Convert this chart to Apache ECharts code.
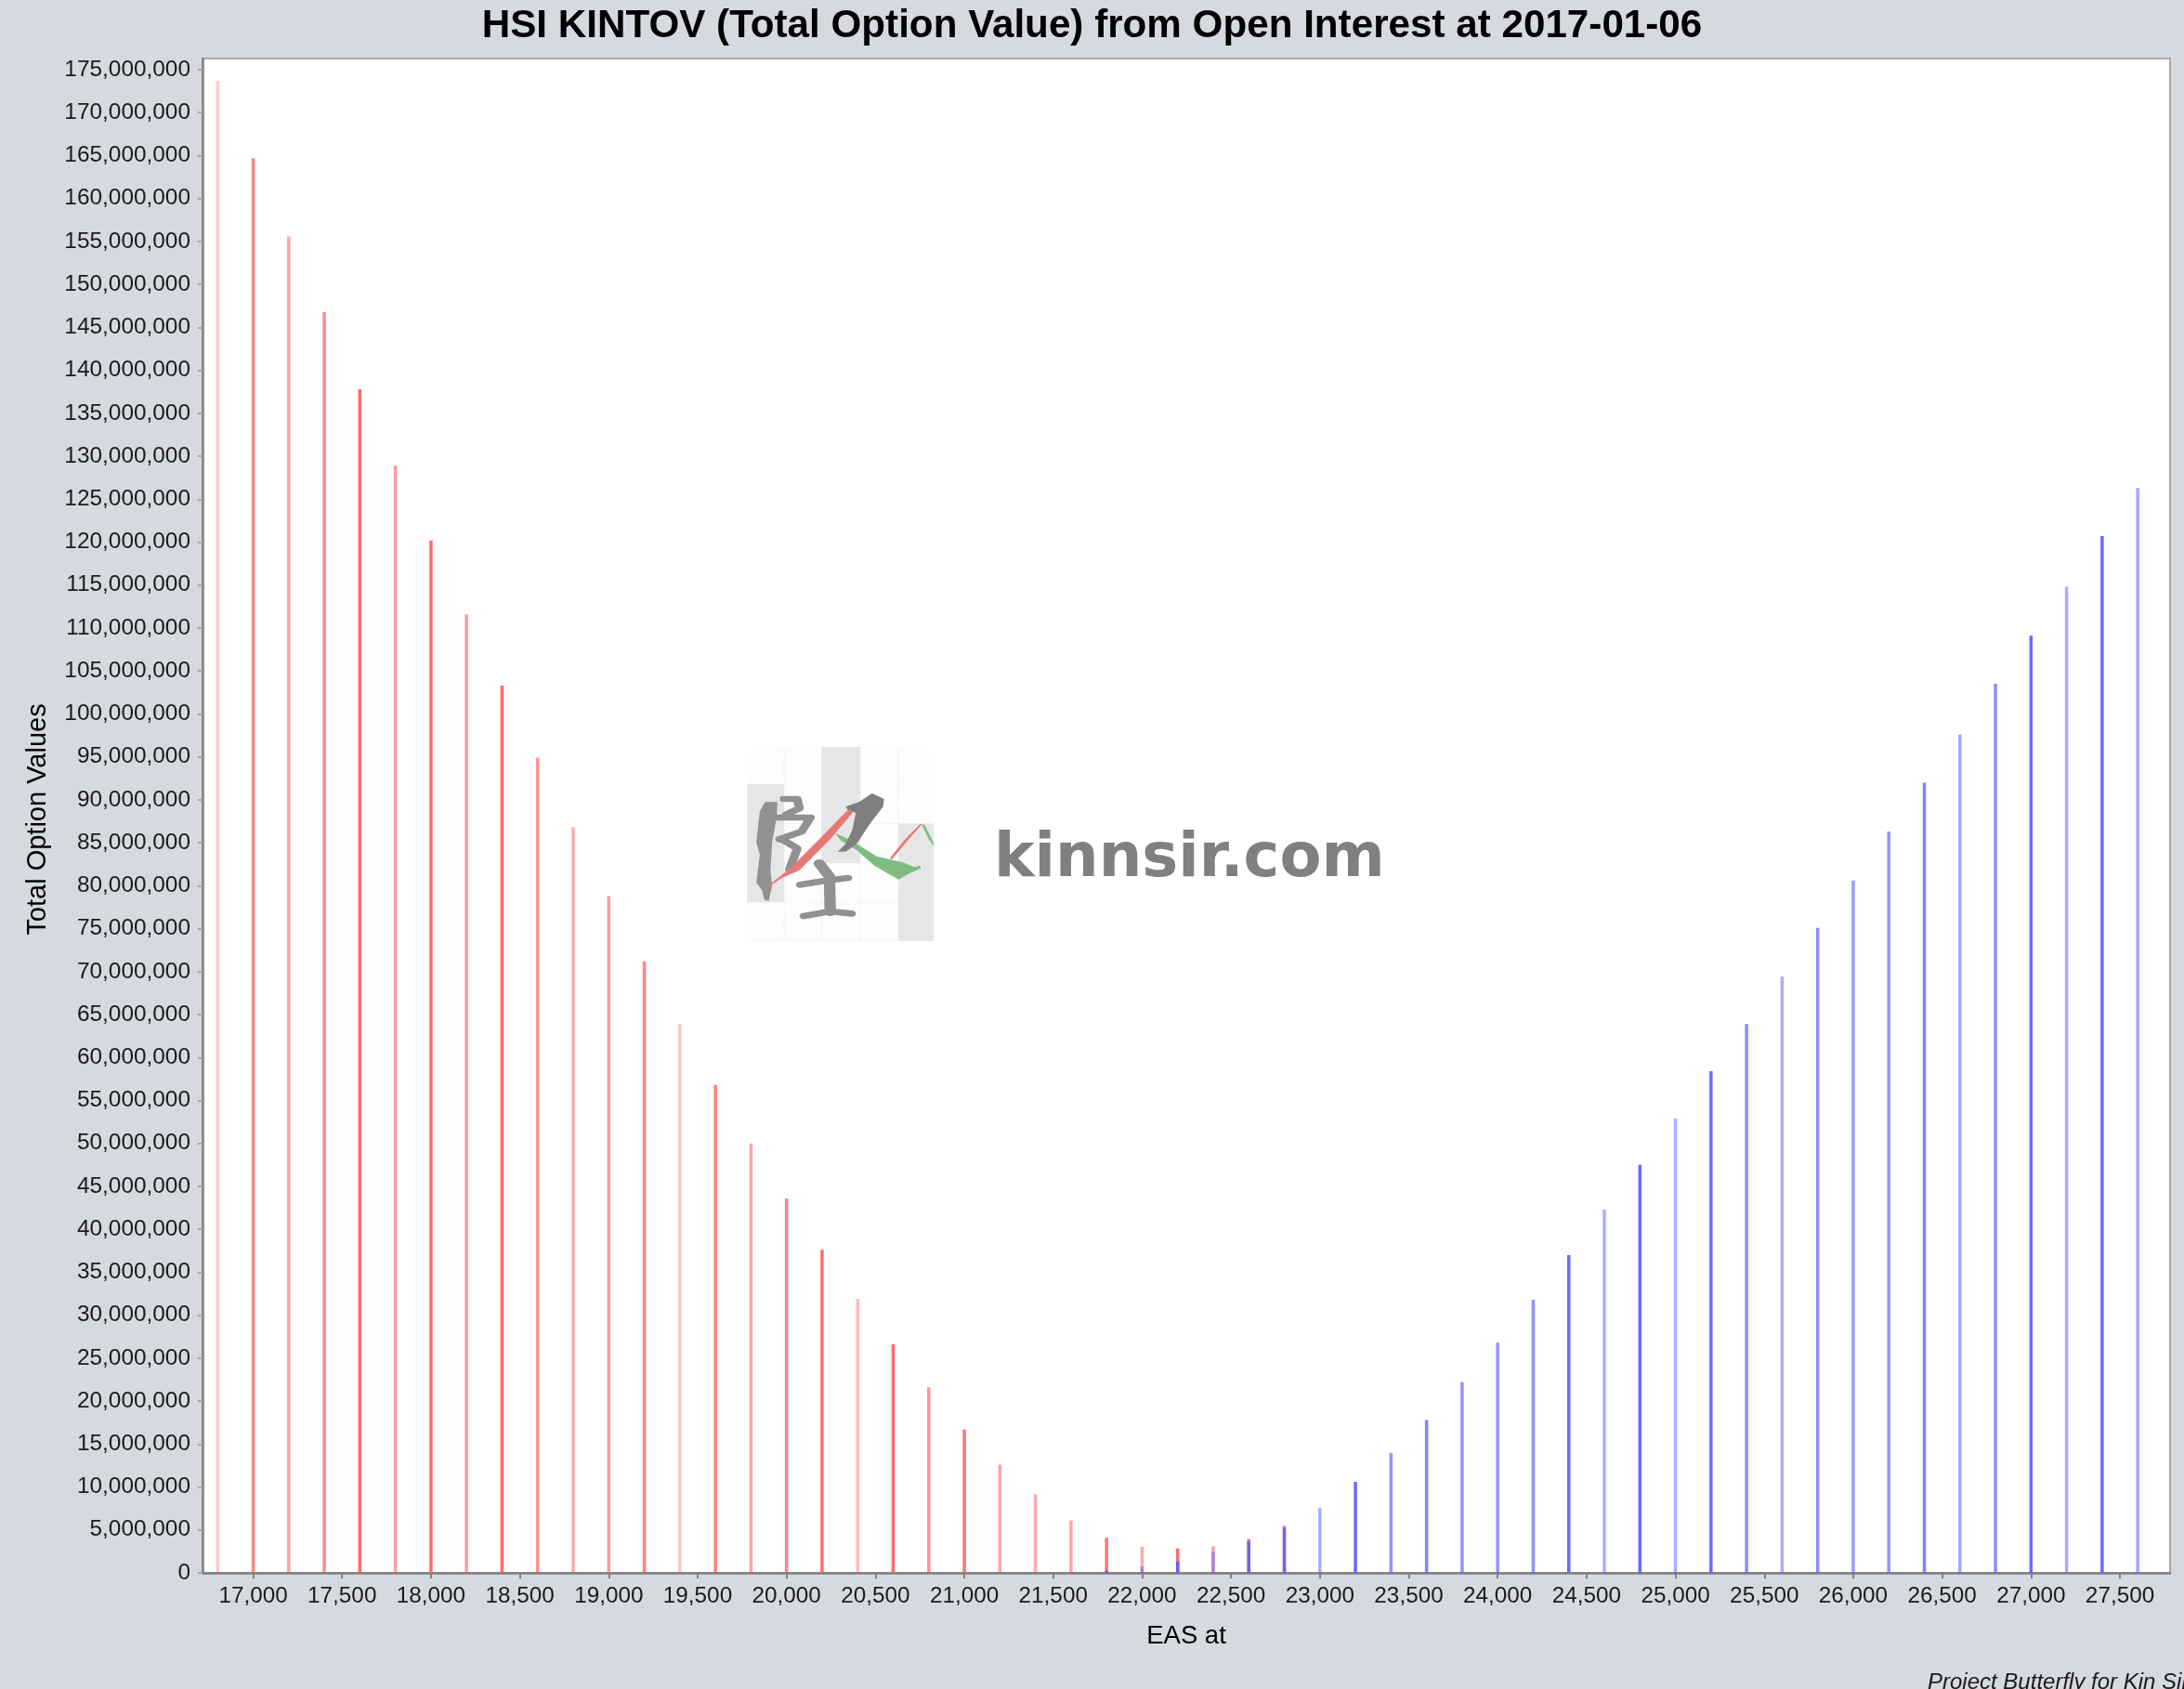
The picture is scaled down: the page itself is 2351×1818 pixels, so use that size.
<!DOCTYPE html>
<html><head><meta charset="utf-8">
<style>html,body{margin:0;padding:0;background:#d6d9e0;overflow:hidden}#c{width:2351px;height:1818px}</style>
<script src="https://cdn.jsdelivr.net/npm/echarts@6/dist/echarts.min.js"></script>
</head><body><div id="c"></div>
<script>
const chartTitle = 'HSI KINTOV (Total Option Value) from Open Interest at 2017-01-06';
const xName = 'EAS at';
const yName = 'Total Option Values';
const footer = 'Project Butterfly for Kin Sir';
const watermark = 'kinnsir.com';
const redStrikes = [16800,17000,17200,17400,17600,17800,18000,18200,18400,18600,18800,19000,19200,19400,19600,19800,20000,20200,20400,20600,20800,21000,21200,21400,21600,21800,22000,22200,22400,22600,22800];
const redValues = [173.7,164.7,155.6,146.8,137.8,128.9,120.2,111.6,103.3,94.9,86.8,78.8,71.2,63.9,56.8,50.0,43.6,37.6,31.9,26.6,21.6,16.7,12.6,9.15,6.1,4.1,3.06,2.85,3.1,3.93,5.5];
const blueStrikes = [21600,21800,22000,22200,22400,22600,22800,23000,23200,23400,23600,23800,24000,24200,24400,24600,24800,25000,25200,25400,25600,25800,26000,26200,26400,26600,26800,27000,27200,27400,27600];
const blueValues = [0.05,0.25,0.72,1.33,2.45,3.64,5.3,7.57,10.6,13.95,17.8,22.2,26.8,31.8,37.0,42.3,47.5,52.9,58.4,63.9,69.4,75.1,80.6,86.3,92.0,97.6,103.5,109.1,114.8,120.7,126.3];
const redShades = [.3,.75,.55,.7,.9,.6,.9,.6,.9,.65,.5,.6,.75,.35,.75,.55,.75,.9,.4,.9,.65,.85,.55,.5,.55,.85,.5,.9,.55,.9,.7];
const blueShades = [.5,.9,.5,.9,.5,.8,.8,.5,.9,.65,.75,.65,.65,.65,.9,.5,.9,.5,.9,.7,.5,.7,.6,.65,.75,.55,.7,.9,.5,.9,.55];
const xTicks = [17000,17500,18000,18500,19000,19500,20000,20500,21000,21500,22000,22500,23000,23500,24000,24500,25000,25500,26000,26500,27000,27500];
const yTicks = [0,5,10,15,20,25,30,35,40,45,50,55,60,65,70,75,80,85,90,95,100,105,110,115,120,125,130,135,140,145,150,155,160,165,170,175].map(v => v * 1e6);

const bars = (xs, ys, shades) => xs.map((x, i) => ({value:[x, ys[i] * 1e6], itemStyle:{opacity:shades[i]}}));
const FONT = '"Liberation Sans", Arial, sans-serif';
const GRAY = '#919191';
const cell = (x, y, w, h, fill) => ({type:'rect', shape:{x, y, width:w, height:h}, style:{fill}, silent:true});
const poly = (points, fill) => ({type:'polygon', shape:{points}, style:{fill}, silent:true});
const stroke = (points, w) => ({type:'polyline', shape:{points}, style:{stroke:GRAY, lineWidth:w, fill:null, lineCap:'round', lineJoin:'round'}, silent:true});
const dash = (x1, y1, x2, y2) => ({type:'line', shape:{x1, y1, x2, y2}, style:{stroke:'#dddddd', lineWidth:1.5, lineDash:[3,3]}, silent:true});

const chart = echarts.init(document.getElementById('c'), null, {renderer:'canvas'});
chart.setOption({
  animation:false,
  backgroundColor:'#d6d9e0',
  title:{text:chartTitle, left:'center', top:2, textStyle:{fontFamily:FONT, fontWeight:'bold', fontSize:42.2, color:'#000'}},
  grid:{left:218, right:15, top:63, bottom:125, show:true, backgroundColor:'#fff', borderColor:'#aaaaaa', borderWidth:2},
  xAxis:{type:'value', min:16715, max:27782, name:xName, nameLocation:'middle', nameGap:54,
    nameTextStyle:{fontFamily:FONT, fontSize:27.5, color:'#000'},
    splitLine:{show:false},
    axisLine:{show:true, onZero:false, lineStyle:{color:'#808080', width:2.5}},
    axisTick:{show:true, length:6, customValues:xTicks, lineStyle:{color:'#808080', width:2}},
    axisLabel:{customValues:xTicks, margin:13, fontFamily:FONT, fontSize:24.3, color:'#1a1a1a', formatter:v => v.toLocaleString('en-US')}},
  yAxis:{type:'value', min:0, max:176300000, name:yName, nameLocation:'middle', nameGap:163,
    nameTextStyle:{fontFamily:FONT, fontSize:29, color:'#000', padding:[0,8,0,0]},
    splitLine:{show:false},
    axisLine:{show:true, lineStyle:{color:'#808080', width:2.5}},
    axisTick:{show:true, length:5, customValues:yTicks, lineStyle:{color:'#a8a8a8', width:2}},
    axisLabel:{customValues:yTicks, margin:13, fontFamily:FONT, fontSize:24.4, color:'#1a1a1a', padding:[4,0,0,0], formatter:v => v.toLocaleString('en-US')}},
  series:[
    {name:'Calls', type:'bar', barWidth:3.5, barGap:'-100%', data:bars(redStrikes, redValues, redShades), itemStyle:{color:'#ff5a5a'}, z:2},
    {name:'Puts', type:'bar', barWidth:3.5, barGap:'-100%', data:bars(blueStrikes, blueValues, blueShades), itemStyle:{color:'#5a5aff'}, z:3}
  ],
  graphic:[
    {type:'group', x:780, y:780, scaleX:0.474, scaleY:1/3, silent:true, children:[
      cell(51,72,424,626,'#fdfdfd'),
      cell(51,192,84,381,'#e6e6e6'),
      cell(220,72,88,375,'#e6e6e6'),
      cell(395,320,80,378,'#e6e6e6'),
      dash(135,72,135,698), dash(220,72,220,698), dash(308,72,308,698), dash(395,72,395,698),
      dash(51,192,475,192), dash(51,320,475,320), dash(51,447,475,447), dash(51,573,475,573), dash(51,696,475,696),
      poly([[92,250],[120,250],[118,300],[108,380],[104,470],[108,520],[100,570],[90,565],[85,535],[72,510],[80,420],[72,380],[80,280]], GRAY),
      stroke([[135,240],[165,240],[170,270],[140,290]], 20),
      stroke([[120,300],[195,300],[175,345],[125,370]], 20),
      stroke([[130,370],[165,400],[147,468]], 20),
      poly([[250,350],[275,365],[300,385],[345,425],[405,445],[430,460],[445,455],[445,465],[420,480],[395,500],[340,455],[300,405],[265,375]], '#80bb80'),
      poly([[280,275],[292,282],[240,370],[170,470],[130,495],[85,538],[90,530],[130,485],[155,455],[215,370]], '#e87878'),
      poly([[375,432],[410,370],[445,320],[448,322],[415,375],[380,435]], '#e87878'),
      poly([[447,320],[455,325],[470,370],[474,380],[474,392],[462,365]], '#80bb80'),
      poly([[275,265],[305,250],[335,222],[362,240],[360,265],[330,320],[300,385],[275,410],[257,410],[275,385],[290,340],[298,285],[280,275]], '#7f7f7f'),
      stroke([[215,448],[238,490],[240,605]], 26),
      stroke([[172,517],[225,505],[280,495]], 20),
      stroke([[180,618],[240,603],[288,610]], 20)
    ]},
    {type:'text', x:1070, y:893, silent:true,
      style:{text:watermark, fill:'#808080', fontFamily:'"DejaVu Sans", sans-serif', fontWeight:'bold', fontSize:65.5, textVerticalAlign:'top'}},
    {type:'text', x:2075, y:1799, silent:true,
      style:{text:footer, fill:'#1a1a1a', fontFamily:FONT, fontStyle:'italic', fontSize:24, textVerticalAlign:'top'}}
  ]
});
</script></body></html>
